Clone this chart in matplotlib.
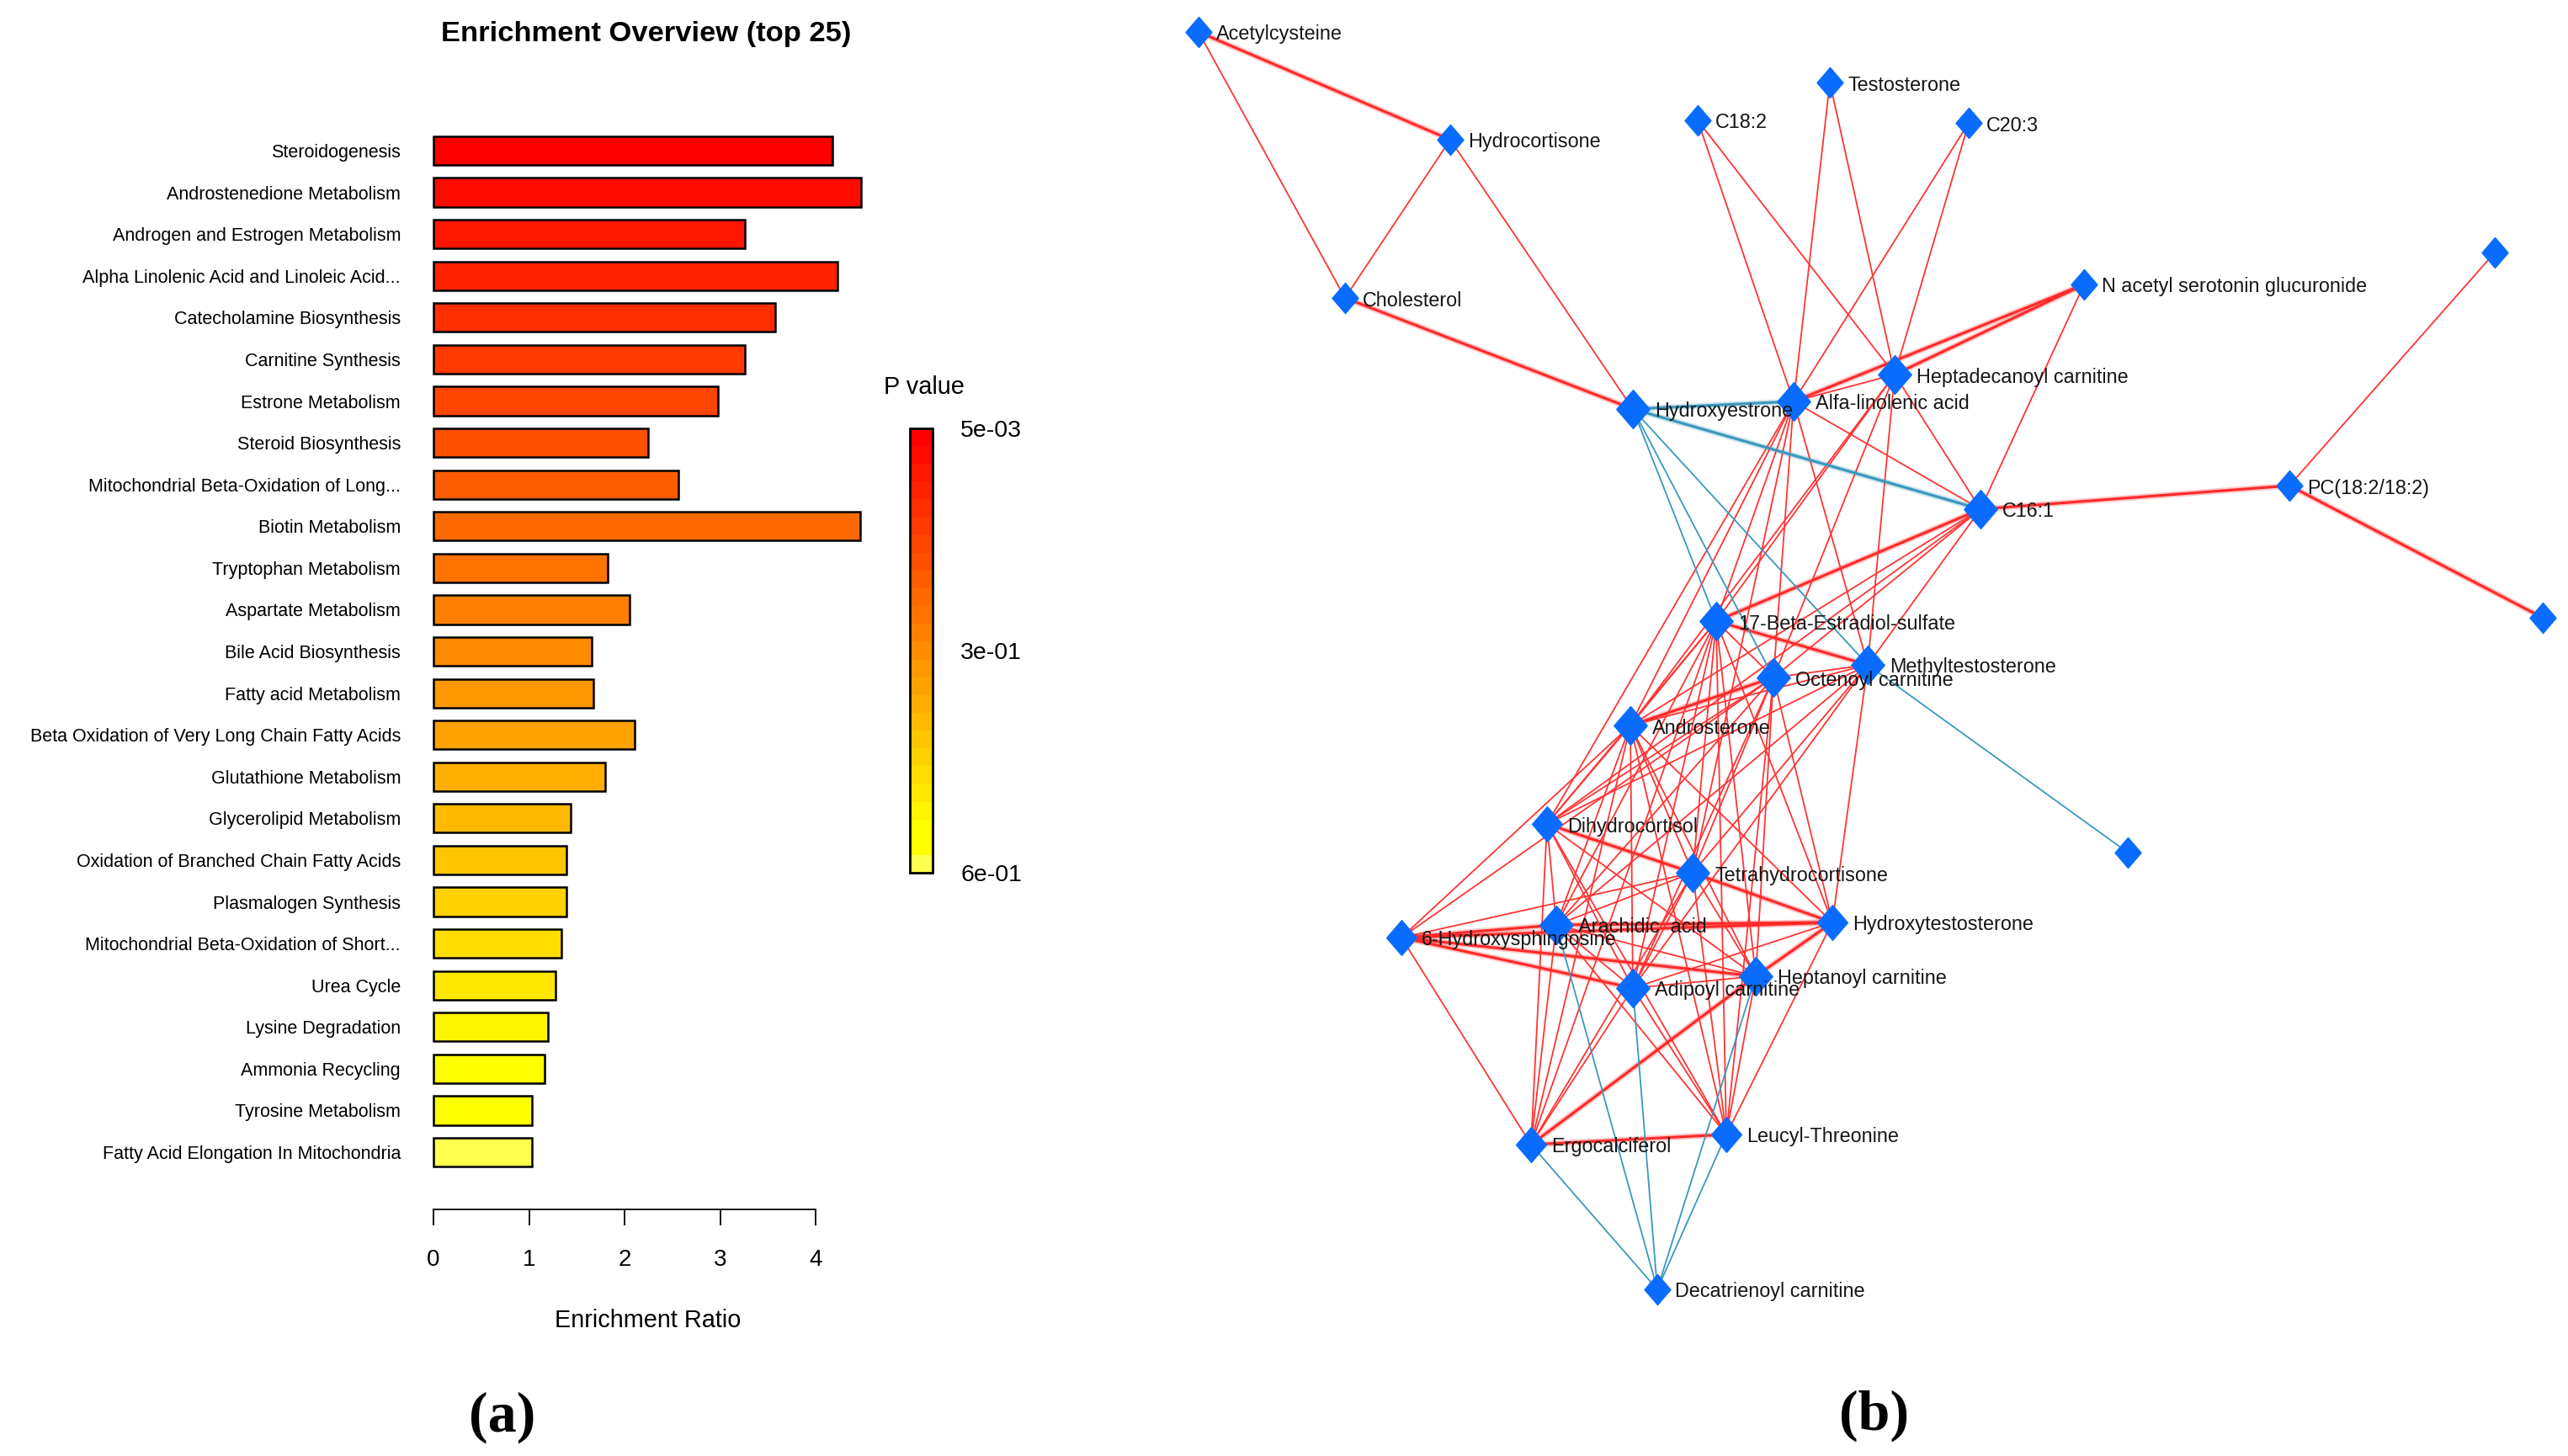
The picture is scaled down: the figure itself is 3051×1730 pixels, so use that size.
import numpy as np
import matplotlib
matplotlib.use("Agg")
import matplotlib.pyplot as plt
from matplotlib.colors import LinearSegmentedColormap, ListedColormap, Normalize
from matplotlib.cm import ScalarMappable
from matplotlib.path import Path

plt.rcParams['font.family'] = ['Liberation Sans', 'DejaVu Sans']

# ---- panel (a): enrichment overview ----
pathways = ["Steroidogenesis", "Androstenedione Metabolism", "Androgen and Estrogen Metabolism",
            "Alpha Linolenic Acid and Linoleic Acid...", "Catecholamine Biosynthesis",
            "Carnitine Synthesis", "Estrone Metabolism", "Steroid Biosynthesis",
            "Mitochondrial Beta-Oxidation of Long...", "Biotin Metabolism",
            "Tryptophan Metabolism", "Aspartate Metabolism", "Bile Acid Biosynthesis",
            "Fatty acid Metabolism", "Beta Oxidation of Very Long Chain Fatty Acids",
            "Glutathione Metabolism", "Glycerolipid Metabolism",
            "Oxidation of Branched Chain Fatty Acids", "Plasmalogen Synthesis",
            "Mitochondrial Beta-Oxidation of Short...", "Urea Cycle", "Lysine Degradation",
            "Ammonia Recycling", "Tyrosine Metabolism", "Fatty Acid Elongation In Mitochondria"]
enrichment = [4.18, 4.48, 3.26, 4.23, 3.58, 3.26, 2.98, 2.25, 2.56, 4.47, 1.82, 2.05, 1.66,
              1.67, 2.11, 1.80, 1.44, 1.39, 1.39, 1.34, 1.28, 1.20, 1.16, 1.03, 1.03]
p_values = [0.005, 0.028, 0.051, 0.075, 0.099, 0.122, 0.146, 0.170, 0.193, 0.217, 0.240,
            0.264, 0.287, 0.311, 0.335, 0.358, 0.382, 0.405, 0.429, 0.452, 0.476, 0.500,
            0.523, 0.547, 0.600]
pval_ticks = [0.005, 0.3025, 0.6]
pval_ticklabels = ["5e-03", "3e-01", "6e-01"]

# ---- panel (b): correlation network ----
node_keys = ["ACE", "HYC", "CHO", "C182", "TES", "C203", "NAS", "U1", "HEP", "HYE", "ALA",
             "C161", "PC", "U2", "EST", "OCT", "MET", "AND", "DHC", "U3", "THC", "HTS",
             "HSP", "ARA", "ADI", "HPT", "ERG", "LEU", "DEC"]
node_labels = ["Acetylcysteine", "Hydrocortisone", "Cholesterol", "C18:2", "Testosterone",
               "C20:3", "N acetyl serotonin glucuronide", "", "Heptadecanoyl carnitine",
               "Hydroxyestrone", "Alfa-linolenic acid", "C16:1", "PC(18:2/18:2)", "",
               "17-Beta-Estradiol-sulfate", "Octenoyl carnitine", "Methyltestosterone",
               "Androsterone", "Dihydrocortisol", "", "Tetrahydrocortisone",
               "Hydroxytestosterone", "6-Hydroxysphingosine", "Arachidic  acid",
               "Adipoyl carnitine", "Heptanoyl carnitine", "Ergocalciferol",
               "Leucyl-Threonine", "Decatrienoyl carnitine"]
node_x = [1424, 1723, 1598, 2017, 2174, 2339, 2476, 2964, 2251, 1940, 2131, 2353, 2720, 3021,
          2039, 2107, 2219, 1937, 1838, 2528, 2011, 2177, 1665, 1849, 1940, 2086, 1819, 2051,
          1969]
node_y = [38, 166, 354, 143, 98, 146, 338, 300, 445, 486, 477, 605, 577, 734, 738, 805, 790,
          862, 979, 1013, 1037, 1096, 1114, 1099, 1174, 1160, 1360, 1348, 1532]
node_degree = ["s", "s", "s", "s", "s", "s", "s", "s", "b", "b", "b", "b", "s", "s", "b", "b",
               "b", "b", "m", "s", "b", "m", "m", "b", "b", "b", "m", "m", "s"]

pos_edges = [("ACE", "CHO"), ("HYC", "CHO"), ("HYC", "HYE"), ("C182", "ALA"), ("C182", "HEP"),
             ("TES", "ALA"), ("TES", "HEP"), ("C203", "ALA"), ("C203", "HEP"), ("NAS", "C161"),
             ("U1", "PC"), ("ALA", "C161"), ("HEP", "C161"), ("ALA", "HEP"),
             ("ALA", "EST"), ("ALA", "OCT"), ("ALA", "MET"), ("ALA", "AND"), ("ALA", "DHC"),
             ("ALA", "THC"), ("HEP", "EST"), ("HEP", "OCT"), ("HEP", "MET"), ("HEP", "AND"),
             ("C161", "OCT"), ("C161", "MET"), ("C161", "AND"), ("C161", "DHC"),
             ("EST", "OCT"), ("EST", "AND"), ("EST", "DHC"), ("EST", "THC"), ("EST", "ARA"),
             ("EST", "ADI"), ("EST", "HPT"), ("EST", "HTS"), ("EST", "LEU"), ("EST", "ERG"),
             ("OCT", "DHC"), ("OCT", "THC"), ("OCT", "ARA"), ("OCT", "ADI"), ("OCT", "HPT"),
             ("OCT", "HTS"), ("OCT", "HSP"), ("OCT", "LEU"), ("OCT", "MET"),
             ("MET", "AND"), ("MET", "DHC"), ("MET", "THC"), ("MET", "HTS"), ("MET", "ADI"),
             ("MET", "ARA"), ("AND", "DHC"), ("AND", "THC"), ("AND", "HTS"), ("AND", "ARA"),
             ("AND", "ADI"), ("AND", "HPT"), ("AND", "HSP"), ("AND", "LEU"), ("AND", "ERG"),
             ("DHC", "ARA"), ("DHC", "ADI"), ("DHC", "HPT"), ("DHC", "LEU"), ("DHC", "ERG"),
             ("THC", "ARA"), ("THC", "ADI"), ("THC", "HPT"), ("THC", "HSP"), ("THC", "LEU"),
             ("THC", "ERG"), ("HTS", "ADI"), ("HTS", "LEU"), ("HSP", "ERG"), ("ARA", "ADI"),
             ("ARA", "HPT"), ("ARA", "LEU"), ("ARA", "ERG"), ("ADI", "HPT"), ("ADI", "LEU"),
             ("ADI", "ERG"), ("HPT", "LEU")]
pos_strong = [("ACE", "HYC"), ("CHO", "HYE"), ("NAS", "ALA"), ("NAS", "HEP"), ("PC", "C161"),
              ("PC", "U2"), ("EST", "C161"), ("EST", "MET"), ("OCT", "AND"), ("DHC", "THC"),
              ("THC", "HTS"), ("ARA", "HTS"), ("HSP", "ADI"), ("HSP", "HPT"), ("HSP", "HTS"),
              ("HSP", "ARA"), ("HPT", "ERG"), ("ERG", "LEU"), ("HTS", "HPT")]
neg_edges = [("HYE", "EST"), ("HYE", "OCT"), ("HYE", "MET"), ("MET", "U3"), ("ARA", "DEC"),
             ("ADI", "DEC"), ("HPT", "DEC"), ("LEU", "DEC"), ("ERG", "DEC")]
neg_strong = [("HYE", "ALA"), ("HYE", "C161")]

W, H = 3051, 1730
fig = plt.figure(figsize=(W / 100, H / 100), dpi=100)


def px_axes(left, top, right, bottom):
    return fig.add_axes([left / W, 1 - bottom / H, (right - left) / W, (bottom - top) / H])


heat = LinearSegmentedColormap.from_list(
    "heat", [(0, "#ff0000"), (0.87, "#ffff00"), (0.93, "#ffff00"), (1, "#ffff4d")])
norm = Normalize(min(p_values), max(p_values))
bar_colors = heat(norm(np.array(p_values)))

ax = px_axes(515, 150, 1025, 1437)
ypos = np.arange(len(pathways))
ax.barh(ypos, enrichment, height=0.69, color=bar_colors, edgecolor="black",
        linewidth=1.8, clip_on=False)
ax.set_xlim(0, 510 / 113.5)
ax.set_ylim(25.37, -0.585)
ax.set_yticks(ypos, pathways)
ax.tick_params(axis="y", length=0, pad=28, labelsize=15.5)
ax.set_xticks([0, 1, 2, 3, 4])
ax.tick_params(axis="x", direction="out", length=13.5, width=1.3, pad=20, labelsize=20)
for s in ["top", "right", "left"]:
    ax.spines[s].set_visible(False)
ax.spines["bottom"].set_bounds(0, 4)
ax.spines["bottom"].set_linewidth(1.3)
ax.set_xlabel("Enrichment Ratio", fontsize=20.8, labelpad=33)
fig.text(768 / W, 1 - 41 / H, "Enrichment Overview (top 25)", ha="center", va="center",
         fontsize=24.8, fontweight="bold")

cax = px_axes(1081, 509, 1108, 1037)
sm = ScalarMappable(norm=norm, cmap=ListedColormap(bar_colors))
cb = fig.colorbar(sm, cax=cax)
cax.invert_yaxis()
cb.set_ticks(pval_ticks)
cb.set_ticklabels(pval_ticklabels)
cax.tick_params(length=0, pad=24, labelsize=20.5)
cb.outline.set_linewidth(2)
fig.text(1050 / W, 1 - 460 / H, "P value", ha="left", va="center", fontsize=20.8)

# network
ax2 = px_axes(1380, 0, 3051, 1730)
ax2.set_xlim(1380, 3051)
ax2.set_ylim(1730, 0)
ax2.axis("off")
idx = {k: i for i, k in enumerate(node_keys)}


def draw_edges(edges, color, lw, glow):
    for a, b in edges:
        xs = [node_x[idx[a]], node_x[idx[b]]]
        ys = [node_y[idx[a]], node_y[idx[b]]]
        if glow:
            ax2.plot(xs, ys, color=color, lw=lw * 2.2, alpha=0.25, zorder=1, clip_on=False)
        ax2.plot(xs, ys, color=color, lw=lw, zorder=2, clip_on=False)


draw_edges(pos_edges, "#ff3434", 1.3, False)
draw_edges(pos_strong, "#ff2a2a", 2.3, True)
draw_edges(neg_edges, "#3a98bd", 1.3, False)
draw_edges(neg_strong, "#3a98bd", 2.3, True)

diamond = Path([(0, 1), (0.86, 0), (0, -1), (-0.86, 0), (0, 1)],
               [Path.MOVETO, Path.LINETO, Path.LINETO, Path.LINETO, Path.CLOSEPOLY])
ms_by_class = {"s": 26, "m": 30, "b": 33}
off_by_class = {"s": 21, "m": 24, "b": 26}
for i, k in enumerate(node_keys):
    c = node_degree[i]
    ax2.plot(node_x[i], node_y[i], marker=diamond, ms=ms_by_class[c], color="#0a6cff",
             mec="#0a6cff", ls="none", zorder=3, clip_on=False)
    if node_labels[i]:
        ax2.text(node_x[i] + off_by_class[c], node_y[i] + 3, node_labels[i], fontsize=16.8,
                 ha="left", va="center", color="#151515", zorder=4)

fig.text(597 / W, 1 - 1684 / H, "(a)", ha="center", va="center", fontsize=49,
         fontweight="bold", family=["Liberation Serif", "DejaVu Serif"])
fig.text(2227 / W, 1 - 1682 / H, "(b)", ha="center", va="center", fontsize=49,
         fontweight="bold", family=["Liberation Serif", "DejaVu Serif"])

fig.savefig("out.png", dpi=100, facecolor="white")
